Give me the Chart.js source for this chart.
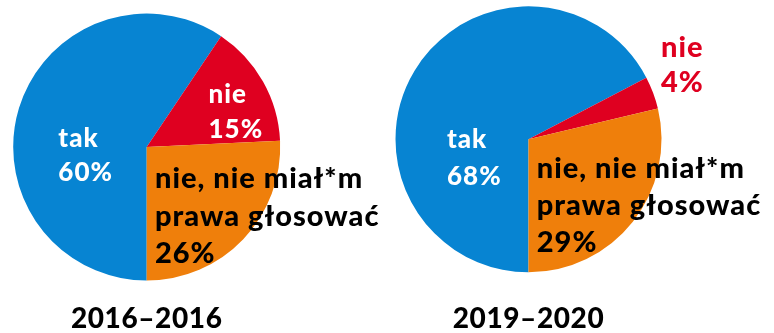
<!DOCTYPE html>
<html lang="pl">
<head>
<meta charset="utf-8">
<title>Udział w głosowaniu</title>
<script src="https://cdn.jsdelivr.net/npm/chart.js@4.4.1/dist/chart.umd.min.js"></script>
<style>
  html, body { margin: 0; padding: 0; background: #fff; width: 774px; height: 333px; overflow: hidden; }
  #wrap { position: relative; width: 774px; height: 333px; }
  canvas { position: absolute; left: 0; top: 0; }
</style>
</head>
<body>
<div id="wrap">
  <canvas id="pieA" width="774" height="340"></canvas>
  <canvas id="pieB" width="774" height="340"></canvas>
</div>
<script>
// Answer categories (multi-line labels)
const categories = [['tak'], ['nie'], ['nie, nie miał*m', 'prawa głosować']];
// Share of answers, percent
const values2016 = [60, 15, 26];
const values2019 = [68, 4, 29];
// Period titles
const periods = ['2016–2016', '2019–2020'];

const COLORS = ['#0784D2', '#DF0020', '#EF7F0B'];
const FONT = 'Lato, "DejaVu Sans", sans-serif';

// Slightly looser tracking for the title text drawn by the title plugin
const tracking = {
  id: 'tracking',
  beforeDraw(chart) { chart.ctx.letterSpacing = '0.6px'; },
  afterDraw(chart) { chart.ctx.letterSpacing = '0px'; }
};

// Draws the category + percent text for each slice, anchored to the arc centre/radius
const sliceLabels = {
  id: 'sliceLabels',
  afterDraw(chart, args, opts) {
    const ctx = chart.ctx;
    const meta = chart.getDatasetMeta(0);
    const data = chart.data.datasets[0].data;
    ctx.save();
    ctx.textAlign = 'left';
    ctx.textBaseline = 'alphabetic';
    ctx.letterSpacing = '1px';
    meta.data.forEach((arc, i) => {
      const spec = opts.items[i];
      const r = arc.outerRadius;
      const x = arc.x + spec.dx * r;
      let y = arc.y + spec.dy * r;
      const lines = chart.data.labels[i].concat([data[i] + '%']);
      ctx.fillStyle = spec.color;
      ctx.font = '900 ' + spec.size + 'px ' + FONT;
      lines.forEach((t) => {
        ctx.fillText(t, x, y);
        y += spec.lineHeight;
      });
    });
    ctx.restore();
  }
};

function makePie(id, values, title, padding, titlePad, items) {
  return new Chart(document.getElementById(id), {
    type: 'pie',
    data: {
      labels: categories,
      datasets: [{
        data: values,
        backgroundColor: COLORS,
        borderWidth: 0,
        hoverOffset: 0
      }]
    },
    options: {
      responsive: false,
      animation: false,
      rotation: 180,
      events: [],
      layout: { padding: padding },
      plugins: {
        legend: { display: false },
        tooltip: { enabled: false },
        title: {
          display: true,
          position: 'bottom',
          text: title,
          color: '#000',
          font: { family: FONT, size: 28, weight: '900', lineHeight: 1.2 },
          padding: titlePad
        },
        sliceLabels: { items: items }
      }
    },
    plugins: [tracking, sliceLabels]
  });
}

makePie('pieA', values2016, periods[0],
  { left: 0, right: 480.6, top: 13.5, bottom: 0 },
  { top: 21.2, bottom: 4.7 },
  [
    { dx: -0.662, dy: -0.002, color: '#fff', size: 26, lineHeight: 34 },
    { dx: 0.463, dy: -0.327, color: '#fff', size: 26, lineHeight: 35 },
    { dx: 0.062, dy: 0.309, color: '#000', size: 29, lineHeight: 37.5 }
  ]);

makePie('pieB', values2019, periods[1],
  { left: 378.5, right: 95.5, top: 6.3, bottom: 0 },
  { top: 29.4, bottom: 4.7 },
  [
    { dx: -0.613, dy: 0.068, color: '#fff', size: 26, lineHeight: 36.5 },
    { dx: 0.996, dy: -0.621, color: '#DF0020', size: 29, lineHeight: 35 },
    { dx: 0.062, dy: 0.293, color: '#000', size: 29, lineHeight: 37 }
  ]);
</script>
</body>
</html>
